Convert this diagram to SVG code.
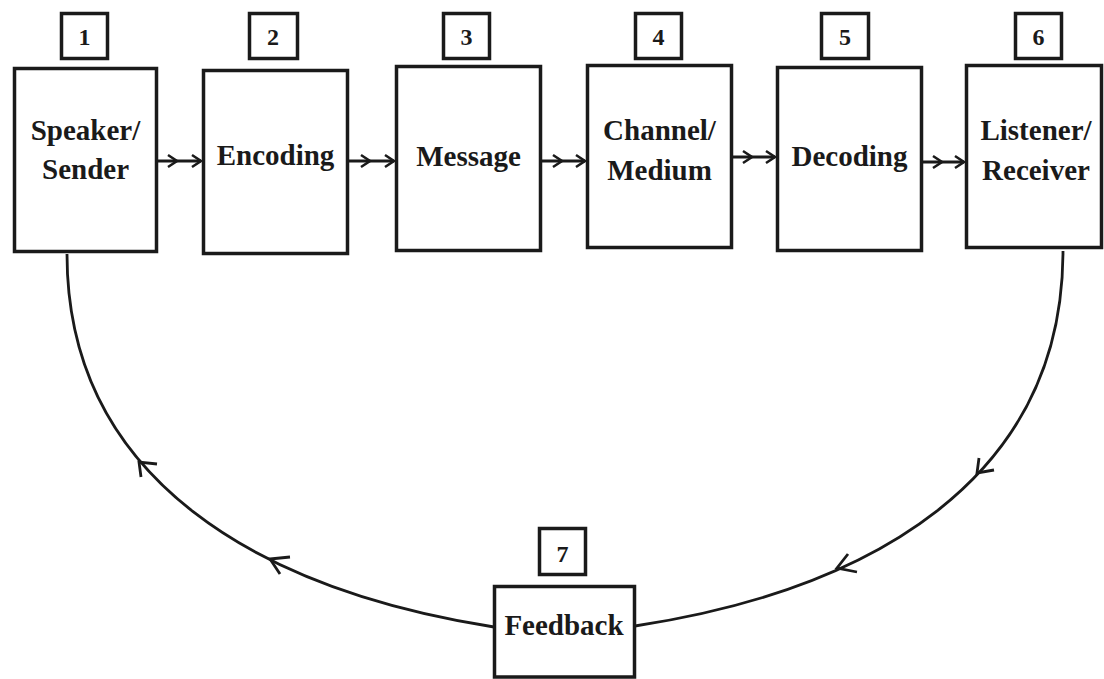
<svg xmlns="http://www.w3.org/2000/svg" width="1104" height="679" viewBox="0 0 1104 679">
<defs>
<style>
.box{fill:#fff;stroke:#1a1a1a;stroke-width:3.5}
.num{fill:#fff;stroke:#1a1a1a;stroke-width:3.5}
.lbl{font-family:"Liberation Serif","Times New Roman",serif;font-weight:bold;font-size:29px;fill:#1a1a1a;text-anchor:middle}
.nt{font-family:"Liberation Serif","Times New Roman",serif;font-weight:bold;font-size:24px;fill:#1a1a1a;text-anchor:middle}
.conn{fill:none;stroke:#1a1a1a;stroke-width:2.8}
.chev{fill:none;stroke:#1a1a1a;stroke-width:2.8;stroke-linejoin:miter}
</style>
<marker id="chev" markerUnits="userSpaceOnUse" markerWidth="14" markerHeight="16" viewBox="0 0 14 16" refX="12" refY="8" orient="auto">
<path d="M3,2 L12,8 L3,14" fill="none" stroke="#1a1a1a" stroke-width="2.5"/>
</marker>
</defs>
<rect width="1104" height="679" fill="#fff"/>

<g id="connectors">
<polyline class="conn" points="158,161 177,161 201,161" marker-mid="url(#chev)" marker-end="url(#chev)"/>
<polyline class="conn" points="349,161 370,161 394,161" marker-mid="url(#chev)" marker-end="url(#chev)"/>
<polyline class="conn" points="542,161 562,161 585,161" marker-mid="url(#chev)" marker-end="url(#chev)"/>
<polyline class="conn" points="733,157 752,157 775,157" marker-mid="url(#chev)" marker-end="url(#chev)"/>
<polyline class="conn" points="923,162 942,162 964,162" marker-mid="url(#chev)" marker-end="url(#chev)"/>
<path class="conn" d="M67,254 C67,480 260,590 494,627"/>
<path class="conn" d="M1063,251 C1063,480 870,590 635,626"/>
<path class="chev" d="M157,464 L139,462 L141,477"/>
<path class="chev" d="M290,557 L270,559 L280,574"/>
<path class="chev" d="M979,458 L977,473 L994,470"/>
<path class="chev" d="M848,554 L837,568 L857,572"/>
</g>

<g id="node1">
<rect class="num" x="61.5" y="13.5" width="46" height="45"/>
<text class="nt" x="84.5" y="45">1</text>
<rect class="box" x="14.5" y="68.5" width="142" height="183"/>
<text class="lbl" x="85.5" y="140">Speaker/</text>
<text class="lbl" x="85.5" y="179">Sender</text>
</g>

<g id="node2">
<rect class="num" x="249.5" y="13.5" width="48" height="45"/>
<text class="nt" x="273" y="45">2</text>
<rect class="box" x="203.5" y="70.5" width="144" height="183"/>
<text class="lbl" x="275.5" y="165">Encoding</text>
</g>

<g id="node3">
<rect class="num" x="443.5" y="13.5" width="46" height="45"/>
<text class="nt" x="466.5" y="45">3</text>
<rect class="box" x="396.5" y="66.5" width="144" height="184"/>
<text class="lbl" x="468.5" y="166">Message</text>
</g>

<g id="node4">
<rect class="num" x="635.5" y="13.5" width="46" height="45"/>
<text class="nt" x="658.5" y="45">4</text>
<rect class="box" x="587.5" y="65.5" width="144" height="182"/>
<text class="lbl" x="659.5" y="140">Channel/</text>
<text class="lbl" x="659.5" y="180">Medium</text>
</g>

<g id="node5">
<rect class="num" x="821.5" y="13.5" width="47" height="45"/>
<text class="nt" x="845" y="45">5</text>
<rect class="box" x="777.5" y="67.5" width="144" height="183"/>
<text class="lbl" x="849.5" y="166">Decoding</text>
</g>

<g id="node6">
<rect class="num" x="1015.5" y="13.5" width="46" height="45"/>
<text class="nt" x="1038.5" y="45">6</text>
<rect class="box" x="966.5" y="65.5" width="135" height="182"/>
<text class="lbl" x="1036" y="140">Listener/</text>
<text class="lbl" x="1036" y="180">Receiver</text>
</g>

<g id="node7">
<rect class="num" x="539.5" y="528.5" width="46" height="46"/>
<text class="nt" x="562.5" y="562">7</text>
<rect class="box" x="494.5" y="586.5" width="140" height="90.5"/>
<text class="lbl" x="564" y="635">Feedback</text>
</g>
</svg>
